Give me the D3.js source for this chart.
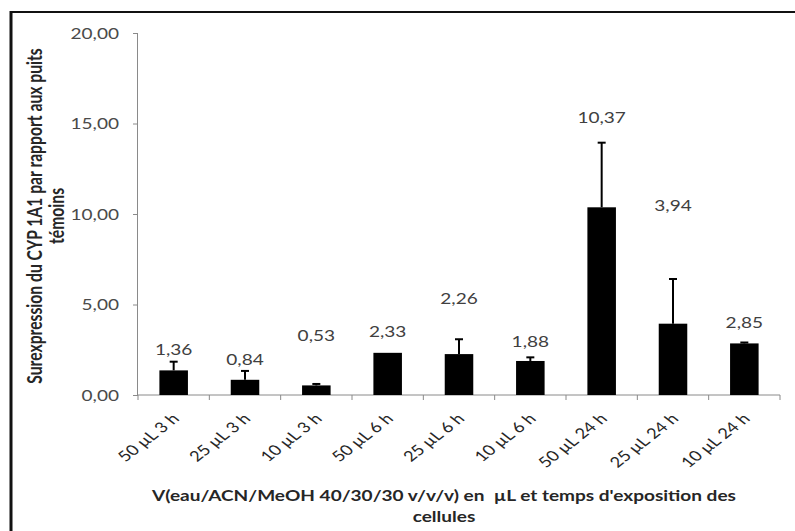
<!DOCTYPE html>
<html><head><meta charset="utf-8">
<script src="https://cdn.jsdelivr.net/npm/d3@7"></script>
<style>
body{margin:0;background:#fff;}
svg{display:block;font-family:Lato,"Open Sans",sans-serif;}
</style></head>
<body>
<svg id="c" width="795" height="531"></svg>
<script>
const categories = ["50 µL 3 h","25 µL 3 h","10 µL 3 h","50 µL 6 h","25 µL 6 h","10 µL 6 h","50 µL 24 h","25 µL 24 h","10 µL 24 h"];
const values = [1.36,0.84,0.53,2.33,2.26,1.88,10.37,3.94,2.85];
const errors = [0.48,0.49,0.08,0.0,0.82,0.20,3.57,2.47,0.05];
const labelAt = [2.49,1.93,3.26,3.50,5.30,2.93,15.30,10.44,3.98];
const yTicks = [0,5,10,15,20];
const yTitle = ["Surexpression du CYP 1A1 par rapport aux puits","témoins"];
const xTitle = ["V(eau/ACN/MeOH 40/30/30 v/v/v) en  µL et temps d'exposition des","cellules"];

const SX = 1.27; // horizontal stretch of the original picture
const svg = d3.select("#c");
const fmt = v => v.toFixed(2).replace(".", ",");

// frame
svg.append("line").attr("x1",10).attr("x2",795).attr("y1",12).attr("y2",12).attr("stroke","#111").attr("stroke-width",2);
svg.append("line").attr("x1",11).attr("x2",11).attr("y1",11).attr("y2",531).attr("stroke","#111").attr("stroke-width",3);

const x = d3.scaleBand().domain(categories).range([138,780]).paddingInner(0).paddingOuter(0);
const y = d3.scaleLinear().domain([0,20]).range([395,33]);
const bw = x.bandwidth()/2.5;
const cx = c => x(c)+x.bandwidth()/2;

// y axis
const yAxis = svg.append("g").attr("transform","translate(138,0)")
  .call(d3.axisLeft(y).tickValues(yTicks).tickFormat(fmt).tickSize(5));
yAxis.select(".domain").attr("stroke","#8a8a8a").attr("d","M-0.5,"+y(20)+"V"+y(0));
yAxis.selectAll(".tick line").attr("stroke","#8a8a8a");
yAxis.selectAll(".tick text")
  .attr("x",null).attr("dy",null)
  .attr("transform","translate(-19,0) scale("+SX+",1)")
  .attr("dy","0.35em").attr("text-anchor","end")
  .attr("fill","#4a4a4a").style("font-size","15px").style("font-family","Lato");

// x axis
const xg = svg.append("g").attr("transform","translate(0,"+y(0)+")");
xg.append("line").attr("x1",138).attr("x2",780).attr("stroke","#8a8a8a");
xg.selectAll(".xt").data(d3.range(categories.length+1)).join("line")
  .attr("x1",i=>i<categories.length?x(categories[i]):x.range()[1])
  .attr("x2",i=>i<categories.length?x(categories[i]):x.range()[1])
  .attr("y1",0).attr("y2",5).attr("stroke","#8a8a8a");
xg.selectAll(".xl").data(categories).join("text")
  .attr("transform",d=>"translate("+(cx(d)+2)+",21) scale("+SX+",1) rotate(-45)")
  .attr("text-anchor","end").attr("dy","0.35em")
  .attr("fill","#262626").style("font-size","14.5px").text(d=>d);

// bars
const data = categories.map((c,i)=>({c,v:values[i],e:errors[i],l:labelAt[i]}));
svg.selectAll(".bar").data(data).join("rect")
  .attr("x",d=>cx(d.c)-bw/2).attr("width",bw)
  .attr("y",d=>y(d.v)).attr("height",d=>y(0)-y(d.v)).attr("fill","#000");
// error bars
const eg = svg.selectAll(".err").data(data.filter(d=>d.e>0)).join("g");
eg.append("line").attr("x1",d=>cx(d.c)).attr("x2",d=>cx(d.c))
  .attr("y1",d=>y(d.v)).attr("y2",d=>y(d.v+d.e)).attr("stroke","#000").attr("stroke-width",2);
eg.append("line").attr("x1",d=>cx(d.c)-4).attr("x2",d=>cx(d.c)+4)
  .attr("y1",d=>y(d.v+d.e)).attr("y2",d=>y(d.v+d.e)).attr("stroke","#000").attr("stroke-width",2);
// value labels
svg.selectAll(".vl").data(data).join("text")
  .attr("transform",d=>"translate("+cx(d.c)+","+y(d.l)+") scale("+SX+",1)")
  .attr("dy","0.35em")
  .attr("text-anchor","middle").attr("fill","#404040").style("font-size","15px").text(d=>fmt(d.v));

// titles
const yt = svg.append("text").attr("transform","translate(35,216) scale("+SX+",1) rotate(-90)")
  .attr("text-anchor","middle").attr("fill","#262626").style("font-size","15.7px").style("font-weight","bold");
yt.selectAll("tspan").data(yTitle).join("tspan").attr("x",0).attr("dy",(d,i)=>i?"1.1em":"0.35em").text(d=>d);
const xt = svg.append("text").attr("transform","translate(444,496) scale("+SX+",1)")
  .attr("text-anchor","middle").attr("fill","#262626").style("font-size","15px").style("font-weight","bold")
  .style("white-space","pre");
xt.selectAll("tspan").data(xTitle).join("tspan").attr("x",0).attr("dy",(d,i)=>i?"1.4em":"0.35em").text(d=>d);
</script>
</body></html>
